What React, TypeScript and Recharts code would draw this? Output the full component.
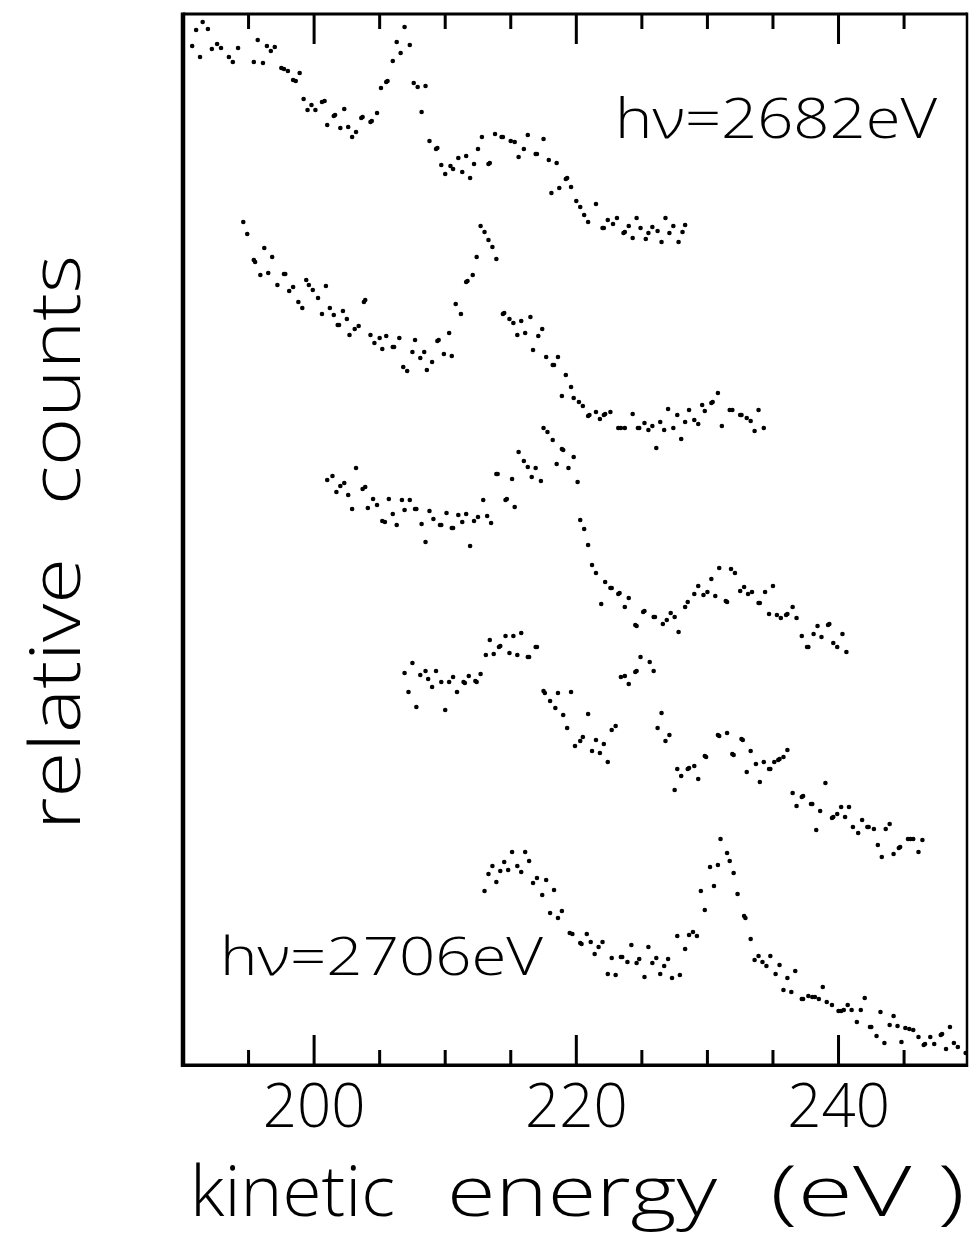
import React from 'react';
import { ScatterChart, Scatter, XAxis, YAxis } from 'recharts';

// kinetic energy (eV), relative counts (arbitrary units, curves offset)
const spec2682: [number, number][] = [
  [190.7, 101.9], [191.0, 103.5], [191.3, 100.8], [191.5, 104.3], [191.9, 103.6], [192.2, 101.6], [192.6, 102.1],
  [192.9, 101.7], [193.5, 100.8], [193.8, 100.3], [194.2, 101.7], [195.4, 100.3], [195.7, 102.5], [196.1, 100.2],
  [196.4, 101.9], [196.7, 101.4], [197.0, 101.8], [197.5, 99.7], [197.7, 99.6], [198.0, 99.4], [198.4, 98.5],
  [198.6, 98.4], [198.9, 99.2], [199.2, 96.6], [199.5, 95.5], [199.8, 96.0], [200.1, 95.5], [200.6, 96.3],
  [200.8, 96.4], [201.0, 94.0], [201.5, 94.9], [201.6, 95.0], [202.0, 93.7], [202.3, 95.6], [202.6, 93.8],
  [202.9, 92.8], [203.2, 93.3], [203.6, 94.7], [203.7, 94.8], [204.3, 94.3], [204.4, 94.4], [204.8, 95.2],
  [205.1, 97.7], [205.5, 98.3], [205.6, 98.4], [206.0, 100.4], [206.3, 102.3], [206.6, 101.2], [206.9, 103.8],
  [207.3, 102.0], [207.6, 98.2], [207.9, 97.8], [208.2, 95.3], [208.5, 97.9], [208.8, 92.4], [209.3, 91.6],
  [209.4, 91.7], [209.7, 90.0], [210.0, 89.1], [210.4, 89.9], [210.6, 89.6], [211.0, 90.7], [211.3, 89.3],
  [211.6, 90.9], [211.9, 88.7], [212.2, 90.1], [212.5, 91.6], [212.8, 92.8], [213.3, 90.1], [213.4, 90.2],
  [213.8, 93.1], [214.3, 92.8], [214.4, 92.8], [215.0, 92.4], [215.3, 92.3], [215.6, 90.8], [216.0, 91.6],
  [216.3, 93.0], [216.9, 91.1], [217.0, 91.1], [217.5, 92.6], [217.9, 90.5], [218.1, 87.2], [218.5, 90.2],
  [218.7, 87.7], [219.2, 88.6], [219.3, 88.7], [219.6, 87.8], [220.0, 86.4], [220.3, 85.8], [220.6, 85.0],
  [220.9, 84.3], [221.5, 86.1], [222.0, 83.7], [222.1, 83.7], [222.4, 84.5], [222.8, 84.1], [223.1, 84.7],
  [223.6, 83.2], [223.7, 83.3], [224.0, 83.9], [224.3, 82.7], [224.6, 84.7], [224.9, 83.7], [225.3, 82.6],
  [225.5, 83.2], [225.8, 83.8], [226.2, 83.4], [226.5, 82.3], [226.8, 84.7], [227.1, 83.2], [227.4, 83.9],
  [227.8, 82.3], [228.1, 83.3], [228.3, 84.0],
];

const spec2688: [number, number][] = [
  [194.6, 84.3], [194.9, 83.1], [195.4, 80.5], [195.5, 80.3], [195.9, 79.0], [196.2, 81.7], [196.5, 79.2],
  [196.8, 80.8], [197.2, 78.0], [197.7, 79.1], [197.8, 79.1], [198.1, 77.4], [198.4, 77.8], [198.8, 76.3],
  [199.1, 75.7], [199.4, 78.5], [199.6, 78.0], [199.9, 77.5], [200.3, 76.7], [200.6, 75.1], [200.9, 77.9],
  [201.2, 75.7], [201.5, 75.0], [201.8, 74.0], [201.9, 74.0], [202.2, 75.4], [202.5, 74.6], [202.7, 73.0],
  [203.1, 73.6], [203.4, 73.9], [203.8, 76.3], [203.9, 76.5], [204.3, 73.0], [204.6, 72.2], [205.0, 72.7],
  [205.2, 71.6], [205.5, 72.9], [206.0, 71.8], [206.1, 71.8], [206.5, 72.7], [206.8, 69.8], [207.1, 69.4],
  [207.5, 71.3], [207.7, 72.5], [208.1, 70.7], [208.4, 71.3], [208.6, 69.5], [209.0, 70.3], [209.4, 72.4],
  [209.5, 72.5], [209.9, 71.1], [210.3, 73.2], [210.5, 70.9], [210.8, 76.1], [211.2, 75.1], [211.6, 78.3],
  [211.7, 78.4], [212.1, 79.0], [212.4, 80.8], [212.7, 83.9], [213.0, 83.3], [213.3, 82.5], [213.6, 81.8],
  [213.9, 80.6], [214.4, 75.1], [214.5, 75.2], [214.9, 74.6], [215.2, 74.2], [215.5, 73.0], [215.8, 74.4],
  [216.1, 73.2], [216.5, 74.8], [216.7, 71.5], [217.1, 72.9], [217.4, 73.6], [217.7, 70.8], [218.2, 70.0],
  [218.3, 70.0], [218.6, 70.8], [218.9, 66.9], [219.2, 69.0], [219.6, 67.8], [219.8, 66.7], [220.2, 66.3],
  [220.5, 65.9], [220.9, 64.9], [221.0, 65.0], [221.5, 65.3], [221.8, 64.6], [222.1, 65.0], [222.2, 65.1],
  [222.6, 65.3], [223.2, 63.7], [223.4, 63.7], [223.7, 63.7], [224.3, 65.1], [224.7, 63.7], [224.8, 63.7],
  [225.2, 64.2], [225.5, 63.5], [225.8, 63.9], [226.1, 61.7], [226.4, 64.3], [226.7, 63.5], [227.0, 65.6],
  [227.4, 63.7], [227.7, 65.0], [228.0, 62.6], [228.3, 64.3], [228.6, 65.5], [229.0, 64.5], [229.3, 64.1],
  [229.6, 66.0], [229.8, 65.4], [230.3, 66.2], [230.4, 66.3], [230.8, 67.2], [231.1, 63.9], [231.7, 65.5],
  [231.9, 65.5], [232.5, 65.0], [232.6, 65.0], [233.0, 64.7], [233.3, 64.4], [233.6, 63.4], [233.9, 65.5],
  [234.3, 63.7],
];

const spec2694: [number, number][] = [
  [201.0, 58.5], [201.4, 58.9], [201.7, 57.3], [202.0, 57.9], [202.3, 58.2], [202.6, 57.0], [202.9, 55.6],
  [203.2, 59.7], [203.7, 57.6], [203.9, 57.8], [204.1, 55.7], [204.5, 56.6], [204.8, 56.0], [205.2, 54.4],
  [205.4, 54.3], [205.7, 56.6], [206.0, 55.1], [206.3, 54.0], [206.7, 56.5], [206.9, 55.5], [207.3, 56.5],
  [207.7, 55.6], [207.8, 55.6], [208.2, 54.1], [208.5, 52.3], [208.8, 55.4], [209.1, 54.6], [209.6, 54.0],
  [209.7, 54.0], [210.1, 55.2], [210.5, 53.7], [210.6, 53.7], [211.0, 55.0], [211.3, 54.3], [211.6, 55.1],
  [211.9, 51.9], [212.2, 54.4], [212.5, 54.8], [212.9, 56.5], [213.2, 54.9], [213.5, 54.2], [213.9, 59.1],
  [214.0, 59.1], [214.6, 56.5], [214.7, 56.6], [215.1, 58.6], [215.3, 55.8], [215.6, 61.3], [216.0, 60.4],
  [216.3, 59.8], [216.6, 58.8], [216.9, 59.7], [217.3, 58.4], [217.5, 63.7], [217.8, 63.3], [218.2, 62.5],
  [218.5, 60.1], [218.9, 61.6], [219.0, 61.5], [219.4, 59.7], [219.8, 60.8], [220.1, 58.3], [220.3, 54.5],
  [220.6, 53.6], [220.9, 52.0], [221.2, 50.0], [221.5, 49.2], [221.9, 46.1], [222.2, 48.3], [222.6, 47.7],
  [222.7, 47.7], [223.2, 47.1], [223.3, 47.2], [223.7, 45.8], [224.0, 46.7], [224.5, 44.0], [224.6, 43.9],
  [225.1, 45.3], [225.2, 45.4], [225.9, 44.8], [226.0, 44.8], [226.6, 44.1], [226.9, 44.5], [227.2, 45.2],
  [227.5, 44.8], [227.8, 43.3], [228.3, 45.8], [228.5, 46.3], [229.0, 47.1], [229.3, 47.9], [229.7, 47.0],
  [230.0, 47.3], [230.3, 48.6], [230.6, 46.9], [230.9, 49.7], [231.4, 46.4], [231.5, 46.3], [231.8, 49.6],
  [232.1, 49.2], [232.5, 47.4], [232.8, 47.8], [233.1, 47.1], [233.4, 47.3], [233.9, 46.2], [234.0, 46.2],
  [234.4, 47.3], [234.7, 45.1], [235.0, 47.9], [235.3, 45.0], [235.6, 44.7], [236.0, 45.0], [236.1, 45.1],
  [236.5, 45.8], [236.8, 44.7], [237.2, 42.9], [237.6, 41.8], [237.7, 41.8], [238.1, 43.1], [238.4, 43.9],
  [238.7, 42.8], [239.2, 44.0], [239.3, 44.1], [239.6, 42.2], [239.9, 41.8], [240.3, 43.1], [240.6, 41.3],
];

const spec2700: [number, number][] = [
  [206.9, 39.2], [207.2, 37.3], [207.5, 40.2], [207.8, 35.8], [208.1, 39.0], [208.5, 39.4], [208.7, 38.6],
  [209.0, 37.8], [209.3, 39.4], [209.7, 38.3], [210.0, 35.5], [210.3, 38.3], [210.6, 38.8], [210.9, 37.3],
  [211.4, 38.3], [211.5, 38.2], [211.8, 38.9], [212.3, 38.4], [212.4, 38.3], [212.7, 39.1], [213.1, 41.0],
  [213.4, 42.5], [213.7, 41.1], [214.1, 41.8], [214.2, 41.9], [214.6, 42.9], [214.9, 41.2], [215.2, 42.9],
  [215.5, 41.0], [215.8, 43.2], [216.3, 40.8], [216.4, 40.8], [216.9, 41.8], [217.0, 41.8], [217.5, 37.4],
  [217.6, 37.2], [218.0, 36.4], [218.4, 35.7], [218.6, 37.2], [219.0, 35.0], [219.3, 33.7], [219.6, 37.3],
  [219.9, 31.9], [220.3, 32.4], [220.5, 32.8], [220.9, 35.1], [221.2, 31.4], [221.5, 32.5], [221.8, 31.2],
  [222.1, 32.1], [222.4, 30.3], [222.7, 33.5], [223.0, 33.9], [223.4, 38.8], [223.7, 38.9], [224.0, 38.1],
  [224.5, 39.3], [224.6, 39.4], [224.9, 40.8], [225.6, 40.3], [225.9, 39.4], [226.2, 33.7], [226.5, 35.2],
  [226.8, 32.4], [227.1, 33.0], [227.5, 27.5], [227.7, 29.6], [228.0, 28.9], [228.5, 29.6], [228.6, 29.7],
  [229.0, 29.9], [229.3, 28.6], [229.8, 30.9], [229.9, 30.8], [230.8, 33.0], [230.9, 32.9], [231.5, 33.2],
  [231.9, 31.1], [232.0, 31.0], [232.6, 32.6], [232.7, 32.5], [233.0, 29.3], [233.3, 31.4], [233.7, 30.1],
  [234.0, 28.3], [234.3, 30.3], [234.7, 29.6], [234.8, 29.6], [235.1, 30.3], [235.4, 30.5], [235.5, 30.6],
  [235.8, 30.8], [236.1, 31.5], [236.5, 27.2], [236.8, 25.9], [237.2, 26.8], [237.3, 26.9], [237.9, 26.1],
  [238.0, 26.1], [238.3, 23.5], [238.6, 25.4], [239.0, 28.2], [239.5, 24.7], [239.6, 24.8], [239.9, 25.1],
  [240.2, 25.8], [240.5, 24.8], [240.8, 25.8], [241.1, 23.8], [241.5, 23.2], [241.8, 24.5], [242.2, 23.8],
  [242.3, 23.8], [242.7, 23.6], [243.0, 22.0], [243.3, 20.8], [243.6, 23.6], [243.9, 24.1], [244.2, 21.1],
  [244.6, 21.7], [244.7, 21.8], [245.3, 22.6], [245.5, 22.6], [245.7, 22.6], [246.1, 21.3], [246.4, 22.5],
];

const spec2706: [number, number][] = [
  [213.0, 17.4], [213.3, 19.1], [213.6, 19.9], [213.9, 18.3], [214.2, 19.4], [214.5, 20.3], [214.8, 19.5],
  [215.1, 21.3], [215.5, 19.9], [215.8, 19.3], [216.1, 21.3], [216.4, 20.4], [216.7, 18.2], [217.0, 18.7],
  [217.4, 17.0], [217.7, 18.5], [218.0, 15.2], [218.3, 17.5], [218.6, 14.7], [218.9, 15.4], [219.5, 13.2],
  [219.7, 13.1], [220.3, 12.2], [220.4, 12.1], [220.8, 13.1], [221.1, 12.3], [221.4, 11.1], [221.7, 11.8],
  [222.0, 12.3], [222.4, 9.1], [222.7, 10.7], [223.0, 9.0], [223.4, 10.8], [223.5, 10.8], [223.9, 10.3],
  [224.2, 12.0], [224.6, 10.2], [224.8, 10.6], [225.2, 8.8], [225.5, 11.8], [225.8, 10.2], [226.1, 10.7],
  [226.4, 9.1], [226.7, 9.9], [227.0, 10.6], [227.3, 8.7], [227.7, 12.9], [227.9, 9.0], [228.3, 11.6],
  [228.6, 13.0], [228.9, 13.3], [229.2, 12.9], [229.5, 17.4], [229.8, 15.5], [230.2, 19.8], [230.5, 17.9],
  [230.8, 20.0], [231.0, 22.6], [231.5, 21.2], [231.7, 20.4], [232.0, 19.2], [232.3, 17.1], [232.8, 14.9],
  [232.9, 14.7], [233.3, 12.6], [233.6, 10.5], [233.9, 10.9], [234.2, 10.3], [234.5, 9.9], [234.8, 10.9],
  [235.2, 9.1], [235.5, 10.0], [235.8, 7.5], [236.1, 8.7], [236.4, 7.3], [236.7, 9.4], [237.2, 6.6],
  [237.3, 6.6], [237.7, 6.9], [238.0, 6.8], [238.2, 6.8], [238.5, 6.6], [238.8, 7.8], [239.1, 6.3],
  [239.5, 6.0], [240.0, 5.4], [240.2, 5.4], [240.4, 5.5], [240.7, 6.0], [241.0, 5.5], [241.4, 4.3],
  [241.7, 5.5], [242.0, 6.7], [242.4, 3.8], [242.5, 3.8], [242.9, 2.9], [243.2, 5.3], [243.5, 2.2],
  [243.9, 4.0], [244.2, 4.9], [244.5, 3.9], [244.8, 2.3], [245.1, 3.7], [245.4, 3.6], [245.7, 3.5],
  [246.1, 2.8], [246.5, 2.0], [246.6, 2.1], [247.0, 2.8], [247.3, 2.1], [247.8, 3.0], [247.9, 3.1],
  [248.2, 1.6], [248.5, 3.8], [248.8, 2.2], [249.1, 1.8], [249.7, 1.2],
];

const xTicks = [195, 200, 205, 210, 215, 220, 225, 230, 235, 240, 245];
const majorTicks = [200, 220, 240];

const X_DOMAIN: [number, number] = [190, 249.8];
const Y_MAX = 105.1;

const FONT = '"Open Sans", "Liberation Sans", sans-serif';

// plot frame (pixels)
const W = 969;
const H = 1237;
const M = { top: 14, right: 2, left: 183, bottom: 0 };
const X_AXIS_H = 172;
const PLOT_W = W - M.left - M.right;
const PLOT_H = H - M.top - X_AXIS_H;

const toPoints = (s: [number, number][]) => s.map(([x, y]) => ({ x, y }));

// inward tick marks on the bottom (y = 0) and top (y = Y_MAX) frame lines
const tickMarks = xTicks.flatMap((t) => [
  { x: t, y: 0, major: majorTicks.includes(t) },
  { x: t, y: Y_MAX, major: majorTicks.includes(t) },
]);

const Dot = (props: any) => <circle cx={props.cx} cy={props.cy} r={2.3} fill="#000" />;

const TickMark = (props: any) => {
  const { cx, cy, payload } = props;
  const len = payload.major ? 30 : 15;
  const up = payload.y === 0;
  return <rect x={cx - 1.5} y={up ? cy - len : cy} width={3} height={len} fill="#000" />;
};

const TickLabel = (props: any) => {
  const { x, y, payload } = props;
  if (!majorTicks.includes(payload.value)) return <g />;
  return (
    <text x={x} y={y + 62} textAnchor="middle" fontSize={60} fontWeight={300} fontFamily={FONT} fill="#000">
      {payload.value}
    </text>
  );
};

const series = [spec2682, spec2688, spec2694, spec2700, spec2706];

const txt = { fontFamily: FONT, fontWeight: 300, fill: '#000' } as const;

export default function App() {
  return (
    <div style={{ position: 'absolute', left: 0, top: 0, background: '#fff' }}>
      <ScatterChart width={W} height={H} margin={M}>
        <XAxis
          type="number"
          dataKey="x"
          xAxisId="bottom"
          domain={X_DOMAIN}
          ticks={xTicks}
          tick={<TickLabel />}
          tickSize={0}
          tickMargin={0}
          tickLine={false}
          interval={0}
          height={X_AXIS_H}
          axisLine={false}
        />
        <YAxis type="number" dataKey="y" yAxisId="left" domain={[0, Y_MAX]} hide />
        {/* frame */}
        <rect x={M.left} y={M.top - 1.5} width={PLOT_W} height={3} fill="#000" />
        <rect x={M.left} y={M.top + PLOT_H - 1.5} width={PLOT_W} height={3.5} fill="#000" />
        <rect x={M.left - 2.25} y={M.top - 1.5} width={4.5} height={PLOT_H + 3.5} fill="#000" />
        <rect x={M.left + PLOT_W - 1.25} y={M.top - 1.5} width={2.5} height={PLOT_H + 3.5} fill="#000" />
        <Scatter
          data={tickMarks}
          xAxisId="bottom"
          yAxisId="left"
          shape={<TickMark />}
          isAnimationActive={false}
        />
        {series.map((s, i) => (
          <Scatter
            key={i}
            data={toPoints(s)}
            xAxisId="bottom"
            yAxisId="left"
            shape={<Dot />}
            isAnimationActive={false}
          />
        ))}
        <text x={615} y={138} fontSize={56} textLength={322} lengthAdjust="spacingAndGlyphs" {...txt}>
          hν=2682eV
        </text>
        <text x={220} y={975} fontSize={54} textLength={323} lengthAdjust="spacingAndGlyphs" {...txt}>
          hν=2706eV
        </text>
        <text x={190} y={1216} fontSize={70} textLength={205} lengthAdjust="spacingAndGlyphs" {...txt}>
          kinetic
        </text>
        <text x={447} y={1216} fontSize={70} textLength={270} lengthAdjust="spacingAndGlyphs" {...txt}>
          energy
        </text>
        <text x={770} y={1216} fontSize={70} textLength={195} lengthAdjust="spacingAndGlyphs" {...txt}>
          (eV )
        </text>
        <text transform="translate(80,830) rotate(-90)" fontSize={70} textLength={272} lengthAdjust="spacingAndGlyphs" {...txt}>
          relative
        </text>
        <text transform="translate(80,505) rotate(-90)" fontSize={70} textLength={250} lengthAdjust="spacingAndGlyphs" {...txt}>
          counts
        </text>
      </ScatterChart>
    </div>
  );
}
